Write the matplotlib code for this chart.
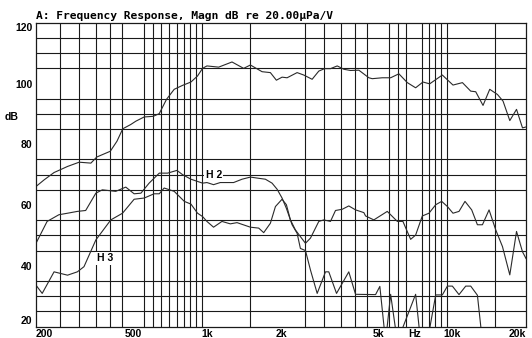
import matplotlib
matplotlib.use("Agg")
import matplotlib.pyplot as plt
from matplotlib.ticker import NullFormatter
from matplotlib.transforms import blended_transform_factory

# frequency response (dB re 20uPa/V)
main_f = [200, 216, 237, 251, 269, 300, 335, 354, 402, 428, 452, 487, 511, 553, 602, 637,
          682, 733, 793, 858, 913, 957, 997, 1113, 1262, 1408, 1500, 1674, 1810, 1915,
          2020, 2118, 2327, 2477, 2680, 2853, 3011, 3184, 3392, 3610, 3844, 4157, 4567,
          4715, 5180, 5604, 6056, 6556, 7088, 7592, 8088, 9111, 10070, 11004, 11895,
          12468, 13354, 14223, 15294, 16121, 17175, 18295, 19352, 20000]
main_db = [66.1, 68.3, 70.7, 71.6, 72.7, 74.1, 73.8, 75.8, 77.7, 81.0, 85.1, 86.5, 87.6,
           89.0, 89.2, 90.1, 94.8, 98.1, 99.4, 100.5, 102.5, 105.0, 105.8, 105.4, 107.1,
           105.0, 106.1, 103.9, 103.6, 101.1, 102.1, 101.9, 103.6, 102.8, 101.4, 104.1,
           104.9, 104.9, 105.8, 104.7, 104.3, 104.4, 101.9, 101.6, 101.9, 101.9, 103.2,
           100.3, 98.6, 100.5, 99.9, 102.8, 99.5, 100.3, 97.5, 97.3, 92.8, 98.1, 96.4,
           94.2, 87.8, 91.5, 85.4, 85.7]

h2_f = [200, 222, 248, 269, 295, 319, 351, 373, 423, 465, 503, 536, 579, 637, 689, 752,
        793, 858, 957, 997, 1061, 1130, 1281, 1387, 1500, 1622, 1727, 1839, 1928, 2020,
        2104, 2220, 2327, 2400, 2517, 2638, 2810, 3038, 3134, 3370, 3782, 4030, 4864,
        5064, 5344, 5604, 5968, 7088, 7430, 7912, 8561, 9111, 9555, 10012, 10656, 11350,
        11895, 12668, 13280, 20000]
h2_db = [47.4, 54.6, 56.8, 57.3, 57.9, 58.2, 63.9, 65.0, 64.5, 65.9, 63.7, 63.9, 67.2,
         70.5, 70.5, 71.4, 70.0, 68.5, 67.2, 67.4, 66.7, 67.4, 67.4, 68.5, 69.2, 68.8,
         68.5, 67.2, 65.2, 62.3, 58.9, 53.5, 50.7, 45.7, 45.0, 38.6, 30.9, 38.0, 38.0,
         30.9, 38.0, 30.6, 30.5, 33.2, 15.0, 30.6, 15.0, 30.6, 15.0, 15.0, 30.4, 30.4,
         33.3, 33.3, 30.5, 33.3, 33.3, 30.3, 15.0, 10.0]

h3_f = [200, 212, 237, 269, 295, 314, 351, 404, 451, 503, 553, 607, 637, 667, 733, 806,
        858, 913, 957, 997, 1061, 1148, 1242, 1323, 1500, 1622, 1700, 1810, 1898, 2020,
        2104, 2185, 2290, 2400, 2517, 2638, 2853, 2990, 3184, 3338, 3556, 3782, 4030,
        4357, 4428, 4786, 5430, 5968, 6290, 6763, 7088, 7548, 8034, 8561, 9055, 9555,
        10070, 10656, 11272, 12006, 12668, 13280, 14134, 15050, 16034, 17175, 18295,
        19352, 20000]
h3_db = [33.6, 30.9, 38.0, 36.9, 38.0, 39.7, 48.5, 55.1, 57.3, 61.9, 62.3, 63.7, 63.7,
         65.6, 64.5, 61.2, 60.3, 57.3, 56.2, 54.6, 52.7, 54.6, 53.8, 54.2, 52.7, 52.4,
         50.9, 54.0, 59.5, 61.9, 60.1, 55.1, 51.8, 49.6, 47.4, 49.1, 54.6, 55.1, 54.6,
         58.2, 58.6, 59.7, 58.4, 57.5, 56.4, 55.1, 57.9, 54.6, 54.6, 48.7, 50.1, 56.4,
         57.3, 60.1, 61.2, 59.5, 57.3, 57.9, 61.2, 58.4, 53.5, 53.5, 58.4, 51.8, 46.3,
         37.0, 51.3, 44.6, 42.4]

xtick_pos = [200, 500, 1000, 2000, 5000, 7000, 10000, 20000]
xtick_lab = ['200', '500', '1k', '2k', '5k', 'Hz', '10k', '20k']
ytick_pos = [20, 40, 60, 80, 100, 120]

grid_f = list(range(250, 1001, 50)) + list(range(1500, 10001, 500)) + [15000]
grid_db = list(range(25, 120, 5))

fig = plt.figure(figsize=(5.32, 3.38), dpi=100)
ax = fig.add_axes([36 / 532, 1 - 326.5 / 338, 490 / 532, 303.7 / 338])

ax.set_xscale('log')
ax.set_xlim(200, 20000)
ax.set_ylim(20, 120)

ax.set_xticks(grid_f, minor=True)
ax.set_yticks(grid_db, minor=True)
ax.xaxis.set_minor_formatter(NullFormatter())
ax.yaxis.set_minor_formatter(NullFormatter())
ax.grid(True, which='minor', color='#1a1a1a', lw=0.8)
ax.grid(False, which='major')
ax.set_axisbelow(True)

lab_font = dict(family=['Liberation Sans', 'DejaVu Sans'], weight='bold', size=7.5)
ax.set_xticks(xtick_pos)
ax.set_xticklabels(xtick_lab, **lab_font)
ax.set_yticks(ytick_pos)
ax.set_yticklabels([str(v) for v in ytick_pos], **lab_font)
ax.tick_params(which='both', length=0)
ax.tick_params(axis='x', pad=1.5)
ax.tick_params(axis='y', pad=2.5)
xl = ax.get_xticklabels()
xl[0].set_ha('left')
xl[-1].set_ha('right')
yl = ax.get_yticklabels()
yl[0].set_va('bottom')
yl[-1].set_va('top')

for sp in ax.spines.values():
    sp.set_color('#1a1a1a')
    sp.set_linewidth(0.9)

for f, d in [(main_f, main_db), (h2_f, h2_db), (h3_f, h3_db)]:
    ax.plot(f, d, color='#2a2a2a', lw=0.8, clip_on=True)

box = dict(facecolor='white', edgecolor='none', pad=1.0)
ax.text(1063, 70, 'H 2', ha='center', va='center', bbox=box, **lab_font)
ax.text(382, 42.4, 'H 3', ha='center', va='center', bbox=box, **lab_font)

tr = blended_transform_factory(fig.transFigure, ax.transData)
ax.text(5 / 532, 89, 'dB', transform=tr, ha='left', va='center', **lab_font)

fig.text(36 / 532, 1 - 16 / 338, 'A: Frequency Response, Magn dB re 20.00\u00b5Pa/V',
         ha='left', va='center', family=['DejaVu Sans Mono'], weight='bold', size=8.1)

fig.savefig('out.png', dpi=100)
